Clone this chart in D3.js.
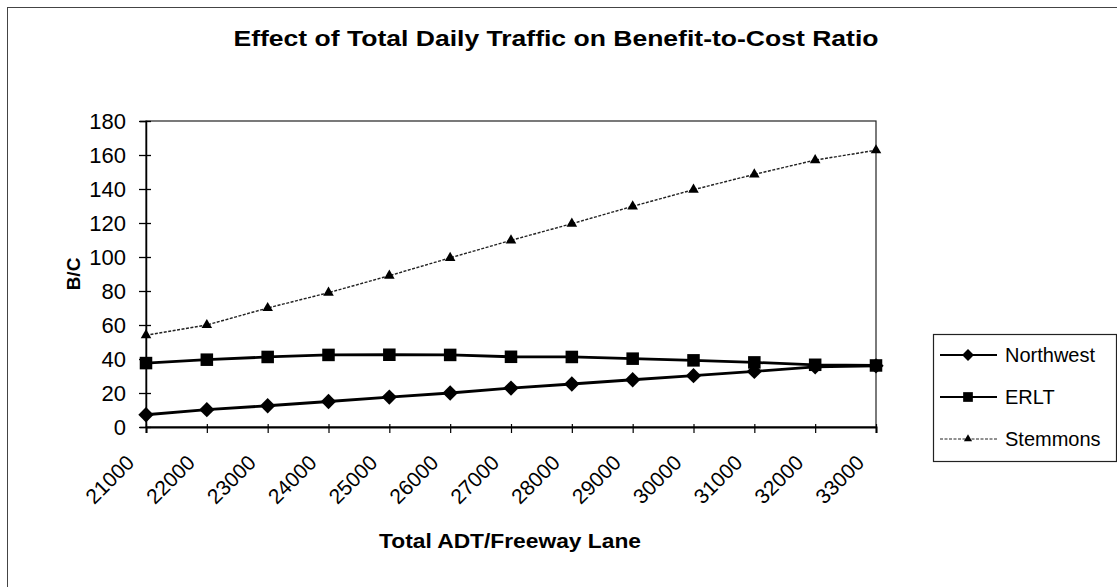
<!DOCTYPE html>
<html>
<head>
<meta charset="utf-8">
<script src="https://cdn.jsdelivr.net/npm/d3@7"></script>
<style>
  html, body { margin: 0; padding: 0; background: #fff; }
  svg { display: block; font-family: "Liberation Sans", Arial, sans-serif; }
</style>
</head>
<body>
<svg id="chart" width="1117" height="587"></svg>
<script>
// ---- data ----
const categories = [21000, 22000, 23000, 24000, 25000, 26000, 27000, 28000, 29000, 30000, 31000, 32000, 33000];
const northwest = [7.2, 10.2, 12.5, 15, 17.6, 20, 22.9, 25.3, 27.8, 30.2, 32.7, 35.4, 36];
const erlt      = [37.6, 39.6, 41.2, 42.4, 42.5, 42.4, 41.3, 41.2, 40.2, 39.2, 38, 36.6, 36.2];
const stemmons  = [54, 60, 70, 79, 89, 99.5, 109.8, 119.6, 129.8, 139.6, 148.6, 157, 162.8];
const yTicks = [0, 20, 40, 60, 80, 100, 120, 140, 160, 180];
const seriesNames = ["Northwest", "ERLT", "Stemmons"];
const titleText = "Effect of Total Daily Traffic on Benefit-to-Cost Ratio";
const xTitle = "Total ADT/Freeway Lane";
const yTitle = "B/C";

// ---- layout ----
const svg = d3.select("#chart");
const plot = { left: 146, right: 876, top: 121, bottom: 427 };

// outer chart border (left/top visible)
svg.append("rect")
  .attr("x", 7.5).attr("y", 7.5)
  .attr("width", 1120).attr("height", 600)
  .attr("fill", "none").attr("stroke", "#444").attr("stroke-width", 1);

const x = d3.scalePoint().domain(categories).range([plot.left, plot.right]);
const y = d3.scaleLinear().domain([0, 180]).range([plot.bottom, plot.top]);

// plot area border
svg.append("rect")
  .attr("x", plot.left).attr("y", plot.top)
  .attr("width", plot.right - plot.left).attr("height", plot.bottom - plot.top)
  .attr("fill", "none").attr("stroke", "#222").attr("stroke-width", 1.2);

// title
svg.append("text")
  .attr("x", 556).attr("y", 46)
  .attr("text-anchor", "middle")
  .attr("font-weight", "bold").attr("font-size", 22)
  .attr("textLength", 645).attr("lengthAdjust", "spacingAndGlyphs")
  .text(titleText);

// y axis
const yAxis = svg.append("g")
  .attr("transform", `translate(${plot.left},0)`)
  .call(d3.axisLeft(y).tickValues(yTicks).tickSize(6).tickPadding(14));
yAxis.selectAll("text").attr("font-size", 22).attr("fill", "#000").attr("font-family", "Liberation Sans, Arial, sans-serif");
yAxis.selectAll(".tick line").attr("x2", -7).attr("x1", 5).attr("stroke", "#000").attr("stroke-width", 1.3);
yAxis.select(".domain").attr("stroke", "#000").attr("stroke-width", 1.5);

// x axis
const xAxis = svg.append("g")
  .attr("transform", `translate(0,${plot.bottom})`)
  .call(d3.axisBottom(x).tickSize(6).tickPadding(8));
xAxis.selectAll(".tick line").attr("y1", -3).attr("y2", 6).attr("stroke", "#000").attr("stroke-width", 1.2);
xAxis.select(".domain").attr("stroke", "#000").attr("stroke-width", 2);
xAxis.selectAll("text")
  .attr("font-size", 21).attr("fill", "#000")
  .attr("font-family", "Liberation Sans, Arial, sans-serif")
  .attr("text-anchor", "end")
  .attr("x", 0).attr("y", 0).attr("dy", 0)
  .attr("transform", "translate(-11,37) rotate(-45)");

// axis titles
svg.append("text")
  .attr("x", 510).attr("y", 548)
  .attr("text-anchor", "middle")
  .attr("font-weight", "bold").attr("font-size", 21)
  .attr("textLength", 262).attr("lengthAdjust", "spacingAndGlyphs")
  .text(xTitle);

svg.append("text")
  .attr("transform", `translate(80,${(plot.top + plot.bottom) / 2}) rotate(-90)`)
  .attr("text-anchor", "middle")
  .attr("font-weight", "bold").attr("font-size", 19)
  .text(yTitle);

// series
const series = [
  { name: seriesNames[0], values: northwest, shape: d3.symbolDiamond2, size: 150, width: 2.8, dash: null, color: "#000" },
  { name: seriesNames[1], values: erlt,      shape: d3.symbolSquare2,  size: 200, width: 2.8, dash: null, color: "#000" },
  { name: seriesNames[2], values: stemmons,  shape: d3.symbolTriangle2, size: 80, width: 1.4, dash: "3,1.5", color: "#222" }
];

const line = d3.line().x((d, i) => x(categories[i])).y(d => y(d));

series.forEach(s => {
  svg.append("path")
    .datum(s.values)
    .attr("d", line)
    .attr("fill", "none")
    .attr("stroke", s.color)
    .attr("stroke-width", s.width)
    .attr("stroke-dasharray", s.dash);
  svg.append("g").selectAll("path")
    .data(s.values)
    .join("path")
    .attr("transform", (d, i) => `translate(${x(categories[i])},${y(d)})`)
    .attr("d", d3.symbol().type(s.shape).size(s.size))
    .attr("fill", "#000");
});

// legend
const lg = svg.append("g").attr("transform", "translate(933,334)");
lg.append("rect")
  .attr("x", 0.5).attr("y", 0.5).attr("width", 183).attr("height", 127)
  .attr("fill", "#fff").attr("stroke", "#222").attr("stroke-width", 1.2);
series.forEach((s, i) => {
  const cy = 21 + i * 42;
  lg.append("line")
    .attr("x1", 7).attr("x2", 64).attr("y1", cy).attr("y2", cy)
    .attr("stroke", s.color).attr("stroke-width", s.width > 2 ? 1.8 : 1)
    .attr("stroke-dasharray", s.dash);
  lg.append("path")
    .attr("transform", `translate(35,${cy})`)
    .attr("d", d3.symbol().type(s.shape).size(s.size * 0.6))
    .attr("fill", "#000");
  lg.append("text")
    .attr("x", 72).attr("y", cy).attr("dy", "0.36em")
    .attr("font-size", 20)
    .text(s.name);
});
</script>
</body>
</html>
